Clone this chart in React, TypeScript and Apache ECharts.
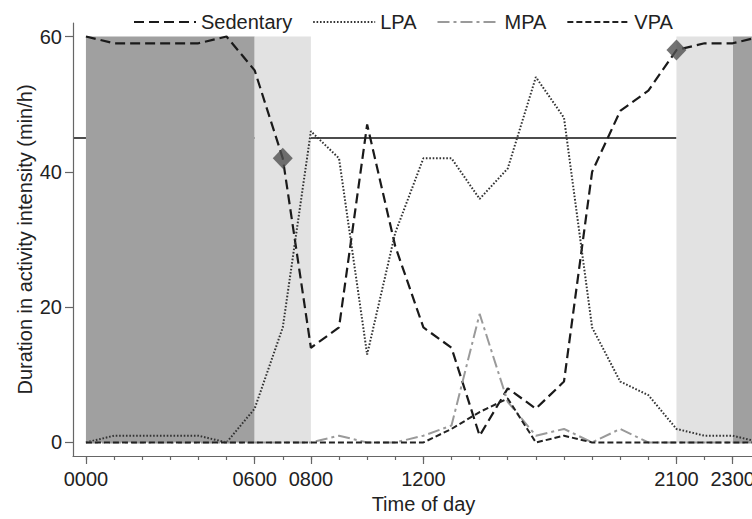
import React, { useEffect, useRef } from "react";
import * as echarts from "echarts";

// Hour of day (0 = 0000)
const hours = [0, 1, 2, 3, 4, 5, 6, 7, 8, 9, 10, 11, 12, 13, 14, 15, 16, 17, 18, 19, 20, 21, 22, 23, 24];
const sedentary = [60, 59, 59, 59, 59, 60, 55, 42, 14, 17, 47, 29, 17, 14, 1, 8, 5, 9, 40, 49, 52, 58, 59, 59, 60];
const lpa = [0, 1, 1, 1, 1, 0, 5, 17, 46, 42, 13, 31, 42, 42, 36, 40.5, 54, 48, 17, 9, 7, 2, 1, 1, 0];
const mpa = [0, 0, 0, 0, 0, 0, 0, 0, 0, 1, 0, 0, 1, 2.5, 19, 6, 1, 2, 0, 2, 0, 0, 0, 0, 0];
const vpa = [0, 0, 0, 0, 0, 0, 0, 0, 0, 0, 0, 0, 0, 2, 4.5, 6.5, 0, 1, 0, 0, 0, 0, 0, 0, 0];

const markerHours = [7, 21];
const majorTicks = [0, 6, 8, 12, 21, 23];
const minorTicks = hours;
const yTicks = [0, 20, 40, 60];
const darkBands = [[0, 6], [23, 24]];
const lightBands = [[6, 8], [21, 23]];
const bandTop = 60;
const refLineY = 45;
const refLineEnd = 21;

const xMin = -0.46;
const xMax = 23.686; // axis is cut by the right edge of the picture
const yMin = -2;
const yMax = 62;

const FONT = "'Liberation Sans', Arial, Helvetica, sans-serif";
const TXT = "#222";
const AXIS = "#666";

const toPair = (ys: number[]) => hours.map((h, i) => [h, ys[i]]);
const fmtHour = (v: number) => String(Math.round(v) * 100).padStart(4, "0");

export default function App() {
  const ref = useRef<HTMLDivElement>(null);
  useEffect(() => {
    const chart = echarts.init(ref.current!, null, { renderer: "svg" });
    const areas: any[] = [];
    darkBands.forEach(([a, b]) =>
      areas.push([{ xAxis: a, yAxis: 0, itemStyle: { color: "#a0a0a0" } }, { xAxis: b, yAxis: bandTop }])
    );
    lightBands.forEach(([a, b]) =>
      areas.push([{ xAxis: a, yAxis: 0, itemStyle: { color: "#e2e2e2" } }, { xAxis: b, yAxis: bandTop }])
    );
    const gridBox = { left: 73, right: 0, top: 23, bottom: 63, containLabel: false, outerBoundsMode: "none" };
    chart.setOption({
      animation: false,
      backgroundColor: "#ffffff",
      textStyle: { fontFamily: FONT },
      grid: [gridBox, { ...gridBox }],
      legend: {
        data: ["Sedentary", "LPA", "MPA", "VPA"],
        left: 128,
        top: 7,
        itemWidth: 62,
        itemHeight: 14,
        itemGap: 20,
        itemStyle: { opacity: 0 },
        textStyle: { fontSize: 20, color: TXT, fontFamily: FONT },
      },
      xAxis: [
        {
          type: "value",
          gridIndex: 0,
          min: xMin,
          max: xMax,
          name: "Time of day",
          nameLocation: "middle",
          nameGap: 36,
          nameTextStyle: { fontSize: 20, color: TXT, fontFamily: FONT, padding: [0, 0, 0, 22] },
          axisLine: { show: true, onZero: false, lineStyle: { color: AXIS, width: 1.2 } },
          axisTick: { show: true, customValues: majorTicks, length: 8, lineStyle: { color: AXIS, width: 1.2 } },
          axisLabel: {
            show: true,
            customValues: majorTicks,
            formatter: (v: number) => fmtHour(v),
            fontSize: 20,
            color: TXT,
            margin: 13,
            fontFamily: FONT,
          },
          splitLine: { show: false },
        },
        {
          type: "value",
          gridIndex: 1,
          min: xMin,
          max: xMax,
          position: "bottom",
          axisLine: { show: false, onZero: false },
          axisTick: { show: true, customValues: minorTicks, length: 4, lineStyle: { color: AXIS, width: 1.2 } },
          axisLabel: { show: false },
          splitLine: { show: false },
        },
      ],
      yAxis: [
        {
          type: "value",
          gridIndex: 0,
          min: yMin,
          max: yMax,
          name: "Duration in activity intensity (min/h)",
          nameLocation: "middle",
          nameGap: 38,
          nameMoveOverlap: false,
          nameRotate: 90,
          nameTextStyle: { fontSize: 20, color: TXT, fontFamily: FONT },
          axisLine: { show: true, onZero: false, lineStyle: { color: AXIS, width: 1.2 } },
          axisTick: { show: true, customValues: yTicks, length: 8, lineStyle: { color: AXIS, width: 1.2 } },
          axisLabel: { show: true, customValues: yTicks, fontSize: 20, color: TXT, margin: 11, fontFamily: FONT },
          splitLine: { show: false },
        },
        {
          type: "value",
          gridIndex: 1,
          min: yMin,
          max: yMax,
          show: false,
        },
      ],
      series: [
        {
          name: "ref",
          type: "line",
          data: [],
          silent: true,
          markLine: {
            silent: true,
            z: 0,
            symbol: ["none", "none"],
            label: { show: false },
            lineStyle: { color: "#111", width: 1.5, type: "solid" },
            data: [[{ coord: [xMin, refLineY] }, { coord: [refLineEnd, refLineY] }]],
          },
        },
        {
          name: "Sedentary",
          type: "line",
          z: 3,
          data: toPair(sedentary),
          symbol: "none",
          lineStyle: { color: "#1a1a1a", width: 2.2, type: [10, 5] },
          itemStyle: { color: "#1a1a1a" },
          markArea: { silent: true, z: 1, data: areas },
        },
        {
          name: "LPA",
          type: "line",
          z: 3,
          data: toPair(lpa),
          symbol: "none",
          lineStyle: { color: "#333", width: 2, type: [1.6, 1.8] },
          itemStyle: { color: "#333" },
        },
        {
          name: "MPA",
          type: "line",
          z: 3,
          data: toPair(mpa),
          symbol: "none",
          lineStyle: { color: "#9a9a9a", width: 2, type: [12, 4, 3, 4] },
          itemStyle: { color: "#9a9a9a" },
        },
        {
          name: "VPA",
          type: "line",
          z: 3,
          data: toPair(vpa),
          symbol: "none",
          lineStyle: { color: "#222", width: 2, type: [6, 3] },
          itemStyle: { color: "#222" },
        },
        {
          name: "markers",
          type: "scatter",
          xAxisIndex: 1,
          yAxisIndex: 1,
          z: 4,
          symbol: "diamond",
          symbolSize: [20, 21],
          itemStyle: { color: "#505050" },
          data: markerHours.map((h) => [h, sedentary[hours.indexOf(h)]]),
        },
      ],
    });
    return () => chart.dispose();
  }, []);
  return <div ref={ref} style={{ position: "absolute", left: 0, top: 0, width: 752, height: 519 }} />;
}
